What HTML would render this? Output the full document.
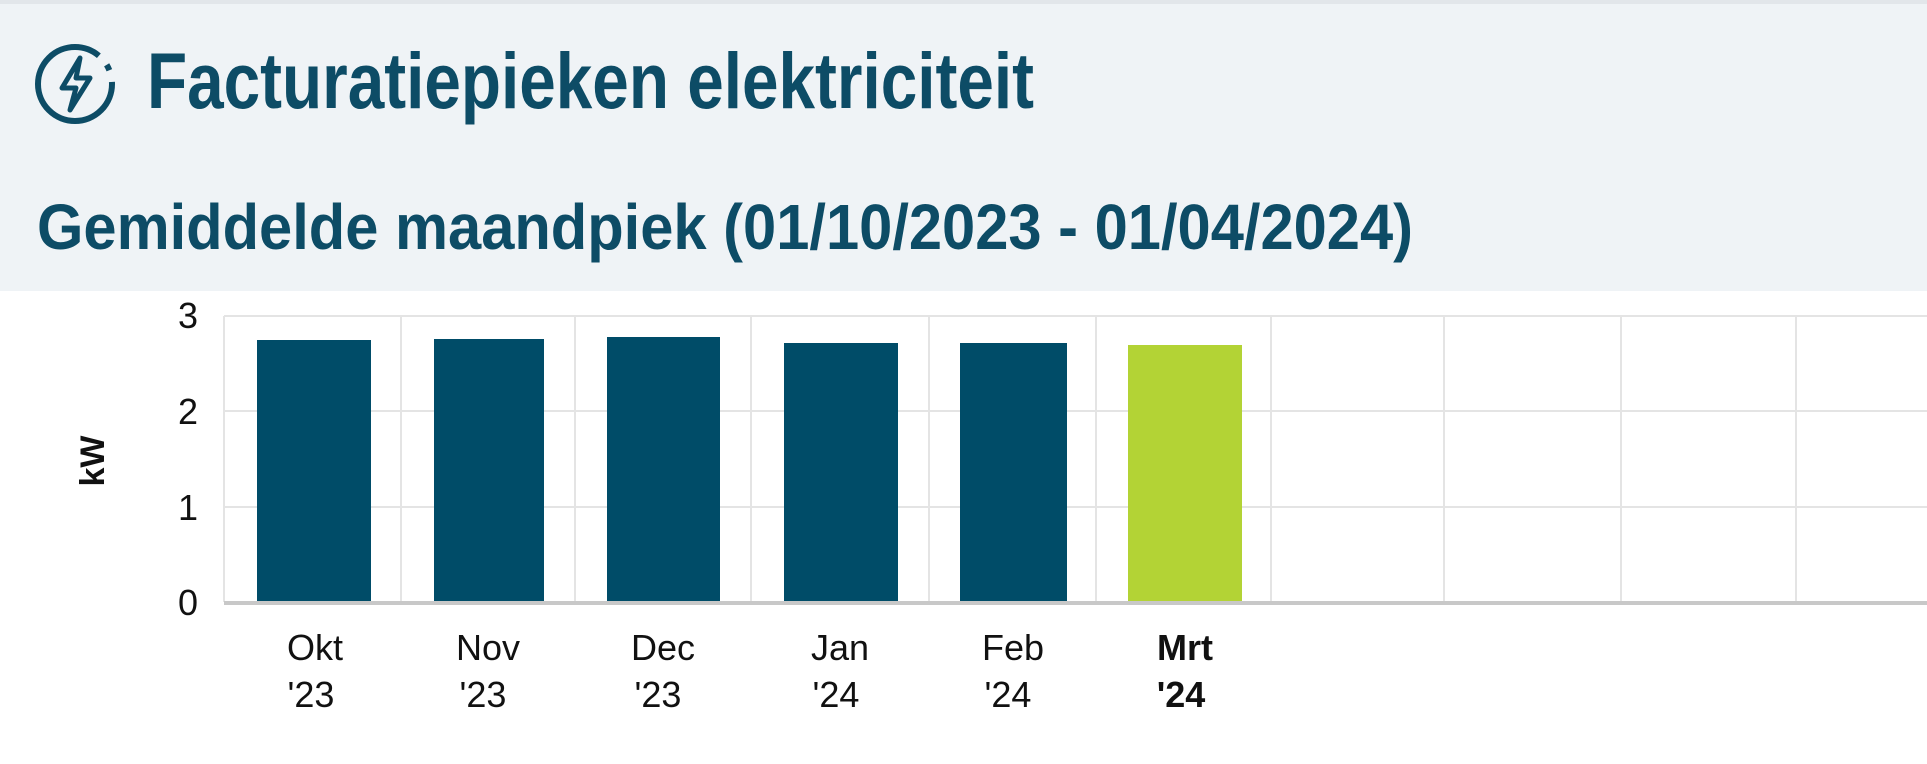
<!DOCTYPE html>
<html><head><meta charset="utf-8"><style>
html,body{margin:0;padding:0;background:#fff;}
svg{display:block;font-family:"Liberation Sans",Arial,sans-serif;}
</style></head><body>
<svg width="1927" height="764" viewBox="0 0 1927 764" xmlns="http://www.w3.org/2000/svg">
<rect x="0" y="0" width="1927" height="291" fill="#eff3f6"/>
<rect x="0" y="0" width="1927" height="4" fill="#e2e6ea"/>
<!-- icon -->
<circle cx="75" cy="84" r="37" fill="none" stroke="#0d4c66" stroke-width="6" stroke-dasharray="200 12 6 12"/>
<path d="M80 58 L62 88 L76 88 L70 110 L90 78 L76 78 Z" fill="none" stroke="#0d4c66" stroke-width="5" stroke-linejoin="round"/>
<text x="147" y="108" font-size="79" font-weight="bold" fill="#0d4c66" textLength="887" lengthAdjust="spacingAndGlyphs">Facturatiepieken elektriciteit</text>
<text x="37" y="249" font-size="64" font-weight="bold" fill="#0d4c66" textLength="1376" lengthAdjust="spacingAndGlyphs">Gemiddelde maandpiek (01/10/2023 - 01/04/2024)</text>
<!-- grid -->
<g stroke="#e4e4e4" stroke-width="2">
<line x1="224" y1="316" x2="1927" y2="316"/>
<line x1="224" y1="411" x2="1927" y2="411"/>
<line x1="224" y1="507" x2="1927" y2="507"/>
<line x1="224" y1="316" x2="224" y2="602"/>
<line x1="401" y1="316" x2="401" y2="602"/>
<line x1="575" y1="316" x2="575" y2="602"/>
<line x1="751" y1="316" x2="751" y2="602"/>
<line x1="929" y1="316" x2="929" y2="602"/>
<line x1="1096" y1="316" x2="1096" y2="602"/>
<line x1="1271" y1="316" x2="1271" y2="602"/>
<line x1="1444" y1="316" x2="1444" y2="602"/>
<line x1="1621" y1="316" x2="1621" y2="602"/>
<line x1="1796" y1="316" x2="1796" y2="602"/>
</g>
<g fill="#004c68">
<rect x="257" y="340" width="114" height="262"/>
<rect x="434" y="339" width="110" height="263"/>
<rect x="607" y="337" width="113" height="265"/>
<rect x="784" y="343" width="114" height="259"/>
<rect x="960" y="343" width="107" height="259"/>
</g>
<rect x="1128" y="345" width="114" height="257" fill="#b3d335"/>
<rect x="224" y="601" width="1703" height="4" fill="#c8c8c8"/>
<g font-size="36" fill="#111" text-anchor="middle">
<text x="188" y="328">3</text>
<text x="188" y="424">2</text>
<text x="188" y="520">1</text>
<text x="188" y="615">0</text>
<text x="315" y="660">Okt</text><text x="311" y="707">'23</text>
<text x="488" y="660">Nov</text><text x="483" y="707">'23</text>
<text x="663" y="660">Dec</text><text x="658" y="707">'23</text>
<text x="840" y="660">Jan</text><text x="836" y="707">'24</text>
<text x="1013" y="660">Feb</text><text x="1008" y="707">'24</text>
<text x="1185" y="660" font-weight="bold">Mrt</text><text x="1181" y="707" font-weight="bold">'24</text>
</g>
<text transform="translate(104,461) rotate(-90)" font-size="34" font-weight="bold" fill="#111" text-anchor="middle">kW</text>
</svg>
</body></html>
